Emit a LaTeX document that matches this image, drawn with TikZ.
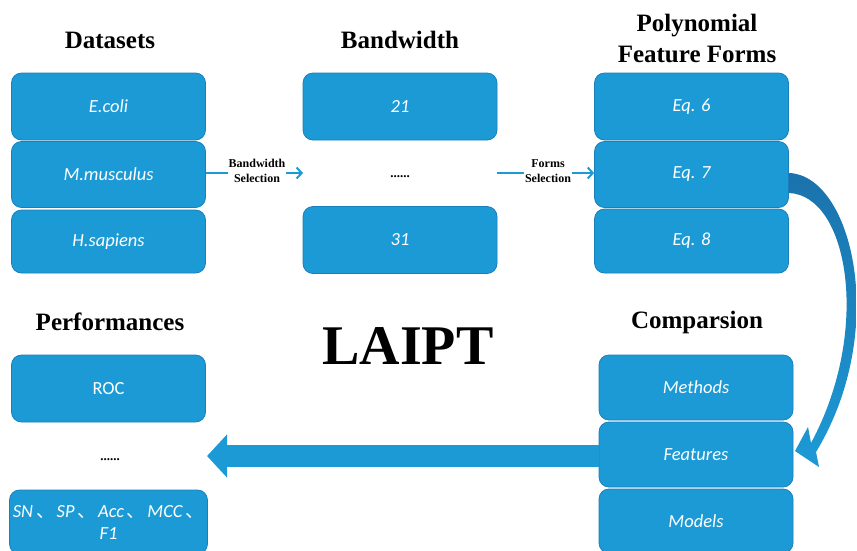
\documentclass[tikz,border=0pt]{standalone}
\usepackage{fontspec}
\setmainfont{Liberation Serif}
\newfontfamily\boxfont{Carlito}
\newfontfamily\cjkfont{Noto Sans CJK SC}
\usetikzlibrary{arrows.meta,calc}
\definecolor{boxblue}{HTML}{1C9AD6}
\definecolor{boxedge}{HTML}{1A80BC}
\definecolor{arrowdark}{HTML}{1B72AC}
\tikzset{
 blbox/.style={rectangle, rounded corners=10pt, fill=boxblue, draw=boxedge, line width=0.8pt,
   minimum width=194pt, text=white, font=\boxfont\itshape\fontsize{18.5}{22}\selectfont, align=center},
 header/.style={font=\bfseries\fontsize{25}{31}\selectfont, align=center},
 sellabel/.style={font=\bfseries\fontsize{12}{14.5}\selectfont, align=center, fill=white, inner sep=1pt},
 thinarrow/.style={draw=boxblue, line width=2pt, -{Straight Barb[length=5pt,width=11pt]}},
 dotsnode/.style={font=\bfseries\fontsize{13}{15}\selectfont},
 bigarrow/.style={draw=boxblue, line width=22pt, -{Triangle[length=20pt,width=42pt]}}
}
\newcommand{\ideocomma}{\hspace{3pt}{\cjkfont 、}\hspace{2pt}}
\begin{document}
\begin{tikzpicture}[x=1pt,y=-1pt]
\useasboundingbox (0,0) rectangle (857,550);

% headers
\node[header] (hds) at (110,40) {Datasets};
\node[header] (hbw) at (400,40) {Bandwidth};
\node[header] (hpf) at (697,38) {Polynomial\\Feature Forms};
\node[header] (hpr) at (110,322) {Performances};
\node[header] (hcm) at (697,322) {Comparsion};
\node[font=\bfseries\fontsize{56}{60}\selectfont] (laipt) at (408,346) {LAIPT};

% datasets
\node[blbox, minimum height=67pt] (ds1) at (108.5,106.5) {E.coli};
\node[blbox, minimum height=66pt] (ds2) at (108.5,174.5) {M.musculus};
\node[blbox, minimum height=63pt] (ds3) at (108.5,241.5) {H.sapiens};

% bandwidth
\node[blbox, minimum height=67pt] (bw1) at (400,106.5) {21};
\node[dotsnode] (bw2) at (400,177) {......};
\node[blbox, minimum height=67pt] (bw3) at (400,240) {31};

% polynomial feature forms
\node[blbox, minimum height=67pt] (pf1) at (691.5,106.5) {Eq. 6};
\node[blbox, minimum height=66pt] (pf2) at (691.5,174.5) {Eq. 7};
\node[blbox, minimum height=64pt] (pf3) at (691.5,241) {Eq. 8};

% comparison
\node[blbox, minimum height=65pt] (cm1) at (696,387.5) {Methods};
\node[blbox, minimum height=65pt] (cm2) at (696,454.5) {Features};
\node[blbox, minimum height=64pt] (cm3) at (696,521) {Models};

% performances
\node[blbox, minimum height=67pt, font=\boxfont\fontsize{18.5}{22}\selectfont] (pr1) at (108.5,388.5) {ROC};
\node[dotsnode] (pr2) at (110,460) {......};
\node[blbox, minimum height=64pt] (pr3) at (108.5,522) {SN\ideocomma SP\ideocomma Acc\ideocomma MCC\ideocomma\\F1};

% thin arrows
\coordinate (bwin) at (303,173);
\coordinate (fsout) at (497,173);
\draw[thinarrow] (ds2.east |- bwin) -- (bwin);
\node[sellabel] (bwlab) at (257,171) {Bandwidth\\Selection};
\draw[thinarrow] (fsout) -- (pf2.west |- fsout);
\node[sellabel] (fslab) at (548,171) {Forms\\Selection};

% big left arrow
\coordinate (prtip) at (207,456);
\draw[bigarrow] (cm2.west |- prtip) -- (prtip);

% curved tapered arrow from Eq.7 to Features
\shade[top color=arrowdark, bottom color=boxblue]
  (pf2.east |- 0,173) .. controls (852,175) and (890,330) .. (816,452)
  -- (819,467) -- (795,451) -- (808,427) -- (811,443)
  .. controls (872,330) and (848,195) .. (pf2.east |- 0,193) -- cycle;
\end{tikzpicture}
\end{document}
